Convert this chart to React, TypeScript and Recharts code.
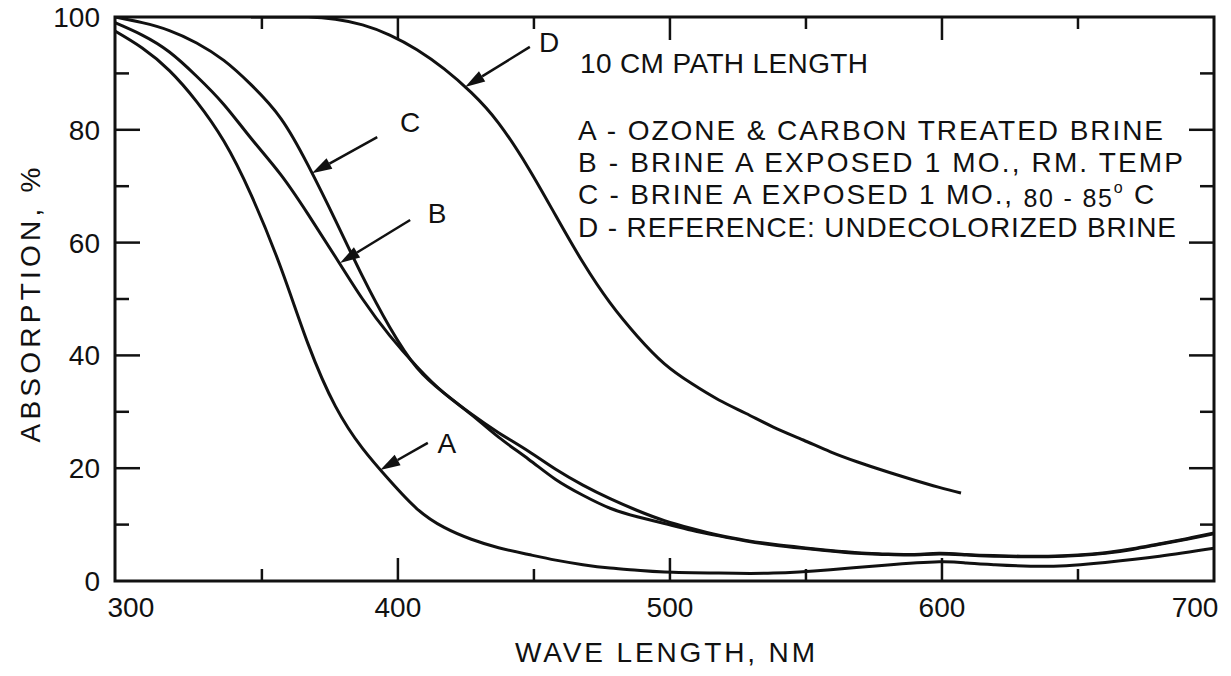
import {
  Line,
  LineChart,
  ReferenceArea,
  ReferenceDot,
  ReferenceLine,
  XAxis,
  YAxis,
} from "recharts";

// curve A - ozone & carbon treated brine
const nmA = [296, 306, 316, 326, 336, 346, 357, 367, 377, 387, 397, 407, 417, 427, 437, 448, 458, 468, 478, 488, 498, 518, 538, 559, 579, 599, 609, 619, 639, 660, 680, 700];
const absA = [97.5, 94.5, 90.5, 85, 78, 68.5, 55.5, 42, 31, 23.5, 17.8, 12.8, 9.5, 7.4, 5.9, 4.7, 3.7, 2.9, 2.3, 1.9, 1.6, 1.4, 1.4, 2.0, 2.8, 3.4, 3.2, 2.9, 2.6, 3.3, 4.4, 5.8];

// curve B - exposed 1 mo., room temp
const nmB = [296, 306, 316, 326, 336, 346, 357, 367, 377, 387, 397, 407, 417, 427, 437, 448, 458, 468, 478, 488, 498, 508, 518, 528, 538, 549, 559, 569, 579, 589, 599, 609, 619, 629, 639, 650, 660, 670, 680, 690, 700];
const absB = [99, 96.8, 93.8, 89.5, 84.5, 78.5, 72, 65, 57.5, 50, 43.5, 38, 33.3, 29.5, 25.5, 21.6, 18, 15.2, 12.9, 11.4, 10.2, 9.0, 8.0, 7.1, 6.4, 5.8, 5.3, 4.9, 4.7, 4.6, 4.8, 4.6, 4.4, 4.3, 4.3, 4.5, 4.9, 5.6, 6.5, 7.4, 8.4];

// curve C - exposed 1 mo., 80-85 C
const nmC = [296, 306, 316, 326, 336, 346, 357, 367, 377, 387, 397, 407, 417, 427, 437, 448, 458, 468, 478, 488, 498, 508, 518, 528, 538, 549, 559, 569, 579, 589, 599, 609, 619, 629, 639, 650, 660, 670, 680, 690, 700];
const absC = [100, 99, 97.6, 95.4, 92.3, 88, 82, 73.7, 64, 54, 45, 37.8, 33.3, 29.6, 26.3, 23, 19.8, 17, 14.6, 12.5, 10.7, 9.3, 8.1, 7.2, 6.5, 5.9, 5.4, 5.0, 4.8, 4.7, 4.9, 4.7, 4.5, 4.4, 4.4, 4.6, 5.0, 5.7, 6.6, 7.5, 8.5];

// curve D - reference, undecolorized brine
const nmD = [346, 357, 367, 377, 387, 397, 407, 417, 427, 437, 448, 458, 468, 478, 488, 498, 508, 518, 528, 538, 549, 559, 569, 579, 589, 599, 607];
const absD = [100, 100, 100, 99.6, 98.6, 96.8, 94.2, 90.8, 86.6, 81.2, 73.2, 64.8, 56.5, 49.3, 43.4, 38.5, 35, 32.1, 29.7, 27.3, 25, 22.9, 21.1, 19.5, 18, 16.6, 15.6];

const xTicks = [300, 400, 500, 600, 700];
const yTicks = [0, 20, 40, 60, 80, 100];
const xMarks = [350, 400, 450, 500, 550, 600, 650];
const yMarks = [10, 20, 30, 40, 50, 60, 70, 80, 90];

const arrowLetters = ["A", "B", "C", "D"];
const arrowTail = [[411, 24.5], [404.5, 64], [392.4, 78.7], [448.5, 94.7]];
const arrowTip = [[393.5, 19.7], [378.7, 56.4], [368.4, 72.3], [424.7, 87.6]];
const letterAt = [[418, 24.5], [414.4, 65.2], [404.5, 81.4], [455.6, 95.6]];

const toRows = (nm: number[], abs: number[]) =>
  nm.map((x, i) => ({ nm: x, abs: abs[i] }));

const INK = "#111";
const FONT = "'Liberation Sans', Arial, sans-serif";

const XTick = (p: any) => {
  const v = p.payload.value;
  const shift = v === 300 ? 5 : v === 700 ? -19 : 0;
  return (
    <text x={p.x + shift} y={p.y + 36} textAnchor="middle" fontSize={28} fontFamily={FONT} fill={INK}>
      {v}
    </text>
  );
};

const YTick = (p: any) => (
  <text x={p.x - 15} y={p.y} dy="0.36em" textAnchor="end" fontSize={28} fontFamily={FONT} fill={INK}>
    {p.payload.value}
  </text>
);

const hTicks = (major: boolean) => (p: any) => {
  const len = major ? 25 : 14;
  const l = Math.min(p.x1, p.x2);
  const r = Math.max(p.x1, p.x2);
  return (
    <g stroke={INK} strokeWidth={2.5}>
      <line x1={l} y1={p.y1} x2={l + len} y2={p.y1} />
      <line x1={r - len} y1={p.y1} x2={r} y2={p.y1} />
    </g>
  );
};

const vTicks = (major: boolean) => (p: any) => {
  const len = major ? 23 : 12;
  const t = Math.min(p.y1, p.y2);
  const b = Math.max(p.y1, p.y2);
  return (
    <g stroke={INK} strokeWidth={2.5}>
      <line x1={p.x1} y1={t} x2={p.x1} y2={t + len} />
      <line x1={p.x1} y1={b - len} x2={p.x1} y2={b} />
    </g>
  );
};

const arrowShape = (p: any) => {
  const { x1, y1, x2, y2 } = p;
  const a = Math.atan2(y2 - y1, x2 - x1);
  const L = 20;
  const W = 6;
  const bx = x2 - L * Math.cos(a);
  const by = y2 - L * Math.sin(a);
  const pts = `${x2},${y2} ${bx + W * Math.sin(a)},${by - W * Math.cos(a)} ${bx - W * Math.sin(a)},${by + W * Math.cos(a)}`;
  return (
    <g>
      <line x1={x1} y1={y1} x2={bx} y2={by} stroke={INK} strokeWidth={2.5} />
      <polygon points={pts} fill={INK} />
    </g>
  );
};

const letterShape = (txt: string) => (p: any) => (
  <text x={p.cx} y={p.cy} dy="0.36em" textAnchor="middle" fontSize={28} fontFamily={FONT} fill={INK}>
    {txt}
  </text>
);

export default function App() {
  return (
    <div style={{ position: "absolute", left: 0, top: 0, width: 1231, height: 676, background: "#fff" }}>
      <LineChart width={1231} height={676} margin={{ top: 17, right: 17, bottom: 0, left: 0 }}>
        <XAxis
          dataKey="nm"
          type="number"
          domain={[296, 700]}
          ticks={xTicks}
          tick={XTick}
          tickLine={false}
          axisLine={false}
          tickSize={0}
          tickMargin={0}
          height={95}
          allowDataOverflow
        />
        <YAxis
          type="number"
          domain={[0, 100]}
          ticks={yTicks}
          tick={YTick}
          tickLine={false}
          axisLine={false}
          tickSize={0}
          tickMargin={0}
          width={115}
          allowDataOverflow
        />
        <ReferenceArea x1={296} x2={700} y1={0} y2={100} fill="none" fillOpacity={0} stroke={INK} strokeWidth={3} />
        {yMarks.map((v) => (
          <ReferenceLine key={`y${v}`} y={v} shape={hTicks(v % 20 === 0)} />
        ))}
        {xMarks.map((v) => (
          <ReferenceLine key={`x${v}`} x={v} shape={vTicks(v % 100 === 0)} />
        ))}
        <Line data={toRows(nmA, absA)} dataKey="abs" type="natural" stroke={INK} strokeWidth={3} dot={false} isAnimationActive={false} />
        <Line data={toRows(nmB, absB)} dataKey="abs" type="natural" stroke={INK} strokeWidth={3} dot={false} isAnimationActive={false} />
        <Line data={toRows(nmC, absC)} dataKey="abs" type="natural" stroke={INK} strokeWidth={3} dot={false} isAnimationActive={false} />
        <Line data={toRows(nmD, absD)} dataKey="abs" type="natural" stroke={INK} strokeWidth={3} dot={false} isAnimationActive={false} />
        {arrowLetters.map((s, i) => (
          <ReferenceLine
            key={`a${s}`}
            segment={[
              { x: arrowTail[i][0], y: arrowTail[i][1] },
              { x: arrowTip[i][0], y: arrowTip[i][1] },
            ]}
            shape={arrowShape}
          />
        ))}
        {arrowLetters.map((s, i) => (
          <ReferenceDot key={`l${s}`} x={letterAt[i][0]} y={letterAt[i][1]} r={0} shape={letterShape(s)} />
        ))}
      </LineChart>
      <svg width={1231} height={676} style={{ position: "absolute", left: 0, top: 0, pointerEvents: "none" }}>
        <g fontFamily={FONT} fontSize={28} fill={INK}>
          <text x={580} y={73} textLength={288} lengthAdjust="spacing">10 CM PATH LENGTH</text>
          <text x={578} y={140} textLength={585} lengthAdjust="spacing">A - OZONE &amp; CARBON TREATED BRINE</text>
          <text x={578} y={172} textLength={605} lengthAdjust="spacing">B - BRINE A EXPOSED 1 MO., RM. TEMP</text>
          <text x={578} y={204} letterSpacing={1.8}>
            C - BRINE A EXPOSED 1 MO.,{" "}
            <tspan dy={3} fontSize={25}>80 - 85</tspan>
            <tspan dy={-14} fontSize={16}>o</tspan>
            <tspan dy={11}> C</tspan>
          </text>
          <text x={578} y={237} textLength={598} lengthAdjust="spacing">D - REFERENCE: UNDECOLORIZED BRINE</text>
          <text x={665} y={662} textAnchor="middle" textLength={300} lengthAdjust="spacing">WAVE LENGTH, NM</text>
          <text
            x={40}
            y={305}
            textAnchor="middle"
            transform="rotate(-90 40 305)"
            textLength={275}
            lengthAdjust="spacing"
          >
            ABSORPTION, %
          </text>
        </g>
      </svg>
    </div>
  );
}
